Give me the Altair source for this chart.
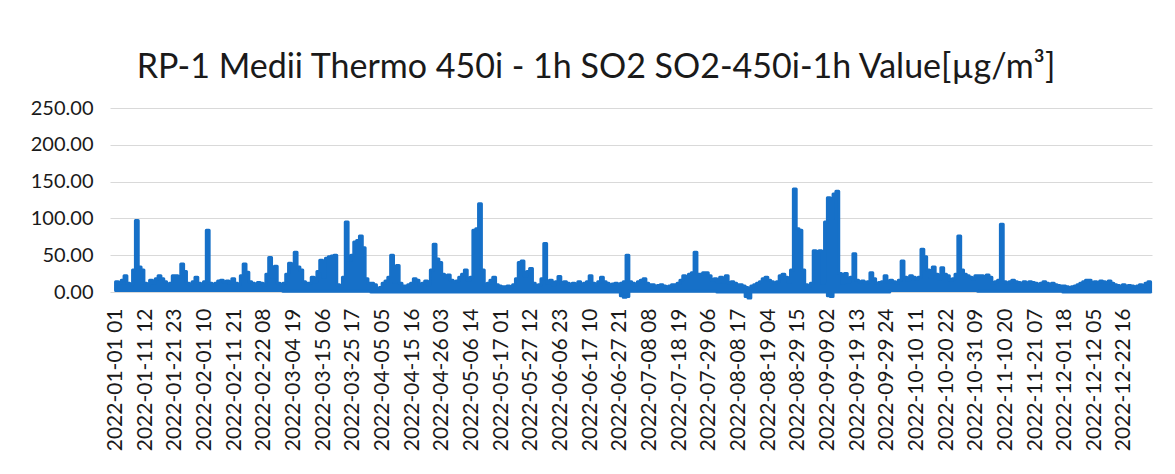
import altair as alt
import pandas as pd

title_text = "RP-1 Medii Thermo 450i - 1h SO2 SO2-450i-1h Value[µg/m³]"

tick_labels = [
    "2022-01-01 01", "2022-01-11 12", "2022-01-21 23", "2022-02-01 10", "2022-02-11 21",
    "2022-02-22 08", "2022-03-04 19", "2022-03-15 06", "2022-03-25 17", "2022-04-05 05",
    "2022-04-15 16", "2022-04-26 03", "2022-05-06 14", "2022-05-17 01", "2022-05-27 12",
    "2022-06-06 23", "2022-06-17 10", "2022-06-27 21", "2022-07-08 08", "2022-07-18 19",
    "2022-07-29 06", "2022-08-08 17", "2022-08-19 04", "2022-08-29 15", "2022-09-09 02",
    "2022-09-19 13", "2022-09-29 24", "2022-10-10 11", "2022-10-20 22", "2022-10-31 09",
    "2022-11-10 20", "2022-11-21 07", "2022-12-01 18", "2022-12-12 05", "2022-12-22 16",
]
tick_step_hours = 251
total_hours = 8759

# daily maximum of the hourly values (µg/m³)
jan = [14, 12, 16, 22, 12, 10, 30, 97, 34, 30, 12, 10, 16, 12, 18, 22, 18, 14, 10, 12,
       22, 22, 20, 38, 28, 12, 10, 14, 20, 12, 10]
feb = [14, 84, 12, 10, 12, 15, 16, 14, 15, 12, 18, 12, 10, 22, 38, 27, 14, 12, 10, 13,
       12, 10, 24, 47, 20, 35, 12, 10]
mar = [12, 24, 39, 36, 54, 34, 30, 14, 12, 12, 20, 14, 28, 43, 20, 46, 48, 49, 50, 10,
       8, 20, 95, 43, 50, 68, 70, 76, 60, 18, 12]
apr = [12, 10, 5, 6, 12, 15, 20, 50, 14, 36, 12, 8, 8, 10, 12, 18, 16, 10, 12, 15,
       10, 30, 65, 45, 40, 24, 20, 23, 16, 14]
may = [15, 20, 24, 30, 16, 20, 84, 86, 120, 30, 10, 12, 16, 20, 10, 8, 7, 7, 8, 7,
       10, 18, 40, 42, 22, 28, 32, 12, 8, 10, 18]
jun = [66, 12, 16, 10, 14, 21, 12, 14, 12, 10, 12, 10, 14, 10, 12, 14, 22, 12, 10, 14,
       20, 14, 12, 10, 11, 12, 10, 12, 14, 50]
jul = [14, 12, 10, 14, 16, 18, 12, 10, 10, 8, 9, 10, 8, 7, 8, 10, 10, 12, 16, 22,
       20, 24, 26, 54, 24, 24, 26, 26, 22, 16, 18]
aug = [14, 20, 14, 22, 12, 14, 12, 10, 10, 8, 6, 5, 8, 10, 12, 14, 18, 20, 16, 14,
       12, 14, 22, 24, 20, 14, 30, 140, 86, 84, 30]
sep = [10, 8, 12, 56, 55, 56, 12, 95, 128, 100, 133, 137, 25, 12, 25, 14, 20, 52, 16, 14,
       15, 12, 14, 26, 18, 12, 13, 14, 22, 14]
oct_ = [16, 14, 12, 16, 42, 20, 16, 22, 20, 18, 20, 58, 48, 30, 20, 34, 24, 18, 33, 24,
        22, 16, 18, 24, 76, 30, 24, 22, 20, 18, 22]
nov = [22, 22, 20, 23, 20, 12, 14, 16, 92, 14, 12, 14, 16, 14, 13, 12, 14, 12, 14, 13,
       12, 10, 12, 14, 12, 10, 12, 10, 9, 8]
dec = [8, 7, 6, 7, 8, 10, 12, 14, 16, 16, 12, 14, 13, 15, 14, 12, 15, 12, 10, 9,
       8, 10, 8, 9, 8, 7, 8, 10, 8, 12, 14]

# typical daily minimum per month, and the few days where it dips below zero
month_low = [2, 2, 1, 0, 0, 0, 1, 0, 0, 2, 1, 0]
dip_days = [178, 179, 180, 222, 223, 251, 252]
dip_values = [-5, -7, -6, -6, -8, -5, -6]

months = [jan, feb, mar, apr, may, jun, jul, aug, sep, oct_, nov, dec]
rows = []
day = 0
for m, vals in enumerate(months):
    for v in vals:
        low = month_low[m]
        if day in dip_days:
            low = dip_values[dip_days.index(day)]
        rows.append({"hour": day * 24, "high": v, "low": low})
        day += 1
rows.append({"hour": total_hours, "high": rows[-1]["high"], "low": rows[-1]["low"]})
df = pd.DataFrame(rows)

label_js = "[" + ",".join("'" + t + "'" for t in tick_labels) + "]"
tick_values = [k * tick_step_hours for k in range(len(tick_labels))]

blue = "#1670C8"
font = "Lato"

chart = alt.Chart(df).mark_area(
    interpolate="step-after", color=blue, stroke=blue, strokeWidth=3,
    strokeJoin="round", opacity=1, clip=False,
).encode(
    x=alt.X("hour:Q",
            scale=alt.Scale(domain=[-47, 8771], nice=False, zero=False),
            axis=alt.Axis(values=tick_values,
                          labelExpr=label_js + "[round(datum.value/" + str(tick_step_hours) + ")]",
                          labelAngle=-90, labelAlign="right", labelBaseline="middle",
                          labelFont=font, labelFontSize=21, labelColor="#1a1a1a",
                          labelPadding=16, labelOverlap=False, labelFlush=False,
                          grid=False, ticks=False, domain=False, title=None)),
    y=alt.Y("high:Q",
            scale=alt.Scale(domain=[0, 250], nice=False, zero=False),
            axis=alt.Axis(values=[0, 50, 100, 150, 200, 250], format=".2f",
                          labelFont=font, labelFontSize=20, labelColor="#1a1a1a",
                          labelPadding=17, grid=True, gridColor="#d9d9d9", gridWidth=1,
                          ticks=False, domain=False, title=None)),
    y2="low:Q",
).properties(
    width=1042, height=184,
    autosize="none",
    padding={"left": 102, "top": 100, "right": 15, "bottom": 174},
    title=alt.TitleParams(title_text, font=font, fontSize=34, fontWeight="normal",
                          color="#1a1a1a", anchor="middle", dx=-35, dy=36, offset=22,
                          baseline="alphabetic"),
).configure_view(stroke=None)

chart.save("out.html", embed_options={"renderer": "svg", "actions": False})
